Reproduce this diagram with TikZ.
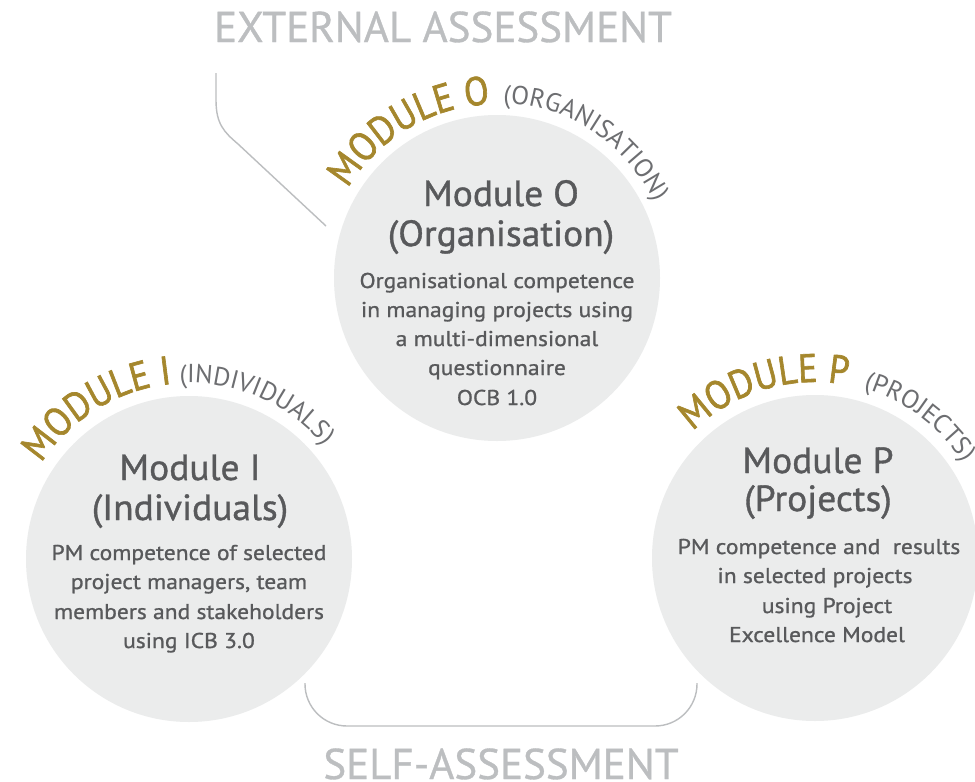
\documentclass[tikz,border=0pt]{standalone}
\usepackage{fontspec}
\setmainfont{PT Sans}
\setsansfont{PT Sans}
\newfontfamily\bodyfont[FakeStretch=1.1, FakeBold=1]{PT Sans}
\newfontfamily\titlefont[FakeStretch=1.03, FakeBold=1]{PT Sans}
\newfontfamily\goldfont[FakeStretch=0.9, FakeBold=1.6]{PT Sans}
\newfontfamily\lblfont[FakeBold=0.8]{PT Sans}
\usetikzlibrary{decorations.text}
\definecolor{circfill}{HTML}{EBECEC}
\definecolor{txtdark}{HTML}{58595B}
\definecolor{gold}{HTML}{A5872D}
\definecolor{lblgray}{HTML}{BCBEC0}
\definecolor{arcgray}{HTML}{6D6E71}
\newcommand\goldtxt{\goldfont\fontsize{40}{40}\selectfont}
\newcommand\graytxt{\fontsize{26}{26}\selectfont}
\tikzset{
  x=1pt, y=1pt,
  modcirc/.style={circle, fill=circfill, minimum size=326pt, inner sep=0pt},
  titletxt/.style={anchor=base, text=txtdark, font=\titlefont\fontsize{36.4}{40}\selectfont, inner sep=0pt},
  bodytxt/.style={anchor=base, text=txtdark, font=\bodyfont\fontsize{21.4}{29}\selectfont, inner sep=0pt},
  biglbl/.style={anchor=base, text=lblgray, font=\lblfont\fontsize{43}{43}\selectfont, inner sep=0pt},
  bracketline/.style={draw=lblgray, line width=1.4pt},
  goldarc/.style={decorate, decoration={text along path, text color=gold, text align=left, text={|\goldtxt|#1}}},
  grayarc/.style={decorate, decoration={text along path, text color=arcgray, text align=left, text={|\graytxt|#1}}}
}
\begin{document}
\begin{tikzpicture}
\useasboundingbox (0,0) rectangle (975,-782);
\fill[white] (0,0) rectangle (975,-782);

% circles
\node[modcirc] (O) at (497,-278) {};
\node[modcirc] (I) at (189,-559) {};
\node[modcirc] (P) at (815,-558) {};

% curved labels
\path[goldarc={MODULE O}] (O.center) ++(149:174pt) arc[start angle=149, end angle=60, radius=174pt];
\path[grayarc={(ORGANISATION)}] (O.center) ++(88:175pt) arc[start angle=88, end angle=0, radius=175pt];

\path[goldarc={MODULE I}] (I.center) ++(147:176pt) arc[start angle=147, end angle=60, radius=176pt];
\path[grayarc={(INDIVIDUALS)}] (I.center) ++(93:176pt) arc[start angle=93, end angle=10, radius=176pt];

\path[goldarc={MODULE P}] (P.center) ++(134:176pt) arc[start angle=134, end angle=50, radius=176pt];
\path[grayarc={(PROJECTS)}] (P.center) ++(74:176pt) arc[start angle=74, end angle=0, radius=176pt];

% Module O text
\node[titletxt] (Ot1) at (501,-206) {Module O};
\node[titletxt] (Ot2) at (501,-246) {(Organisation)};
\node[bodytxt] (Ob1) at (497,-288) {Organisational competence};
\node[bodytxt] (Ob2) at (497,-317) {in managing projects using};
\node[bodytxt] (Ob3) at (497,-346) {a multi-dimensional};
\node[bodytxt] (Ob4) at (497,-375) {questionnaire};
\node[bodytxt] (Ob5) at (497,-405) {OCB 1.0};

% Module I text
\node[titletxt] (It1) at (190,-480) {Module I};
\node[titletxt] (It2) at (190,-520) {(Individuals)};
\node[bodytxt] (Ib1) at (189,-560) {PM competence of selected};
\node[bodytxt] (Ib2) at (189,-589) {project managers, team};
\node[bodytxt] (Ib3) at (189,-619) {members and stakeholders};
\node[bodytxt] (Ib4) at (189,-648) {using ICB 3.0};

% Module P text
\node[titletxt] (Pt1) at (818,-473) {Module P};
\node[titletxt] (Pt2) at (818,-511) {(Projects)};
\node[bodytxt] (Pb1) at (819,-554) {PM competence and\ \ results};
\node[bodytxt] (Pb2) at (815,-583) {in selected projects};
\node[bodytxt] (Pb3) at (827,-613) {using Project};
\node[bodytxt] (Pb4) at (817,-642) {Excellence Model};

% outer labels
\node[biglbl] (ext) at (443,-42) {EXTERNAL ASSESSMENT};
\node[biglbl] (self) at (501,-779) {SELF-ASSESSMENT};

% external bracket line
\coordinate (ea) at (216,-73);
\coordinate (eb) at (326,-226);
\draw[bracketline] (ea) -- (216,-100) .. controls (216,-124) and (224,-132) .. (238,-144) -- (eb);

% self bracket line
\coordinate (sa) at (305,-683);
\coordinate (sb) at (697,-683);
\draw[bracketline, rounded corners=42pt] (sa) -- (305,-726) -- (697,-726) -- (sb);
\end{tikzpicture}
\end{document}
